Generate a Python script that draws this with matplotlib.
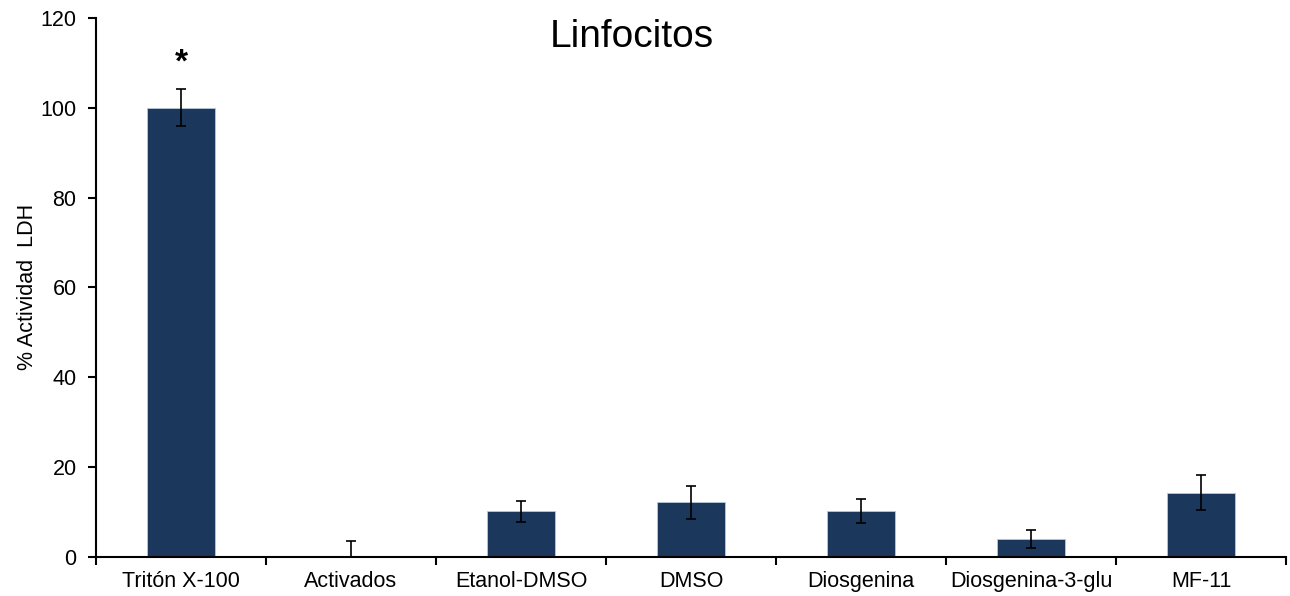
import matplotlib
matplotlib.use("Agg")
import matplotlib.pyplot as plt
import numpy as np

plt.rcParams['font.family'] = ['Liberation Sans', 'DejaVu Sans']

categories = ["Tritón X-100", "Activados", "Etanol-DMSO", "DMSO",
              "Diosgenina", "Diosgenina-3-glu", "MF-11"]
values = [100.0, 0.0, 10.1, 12.1, 10.2, 4.0, 14.3]
errors = [4.1, 3.5, 2.3, 3.7, 2.7, 2.0, 3.8]
yticks = [0, 20, 40, 60, 80, 100, 120]

fig = plt.figure(figsize=(12.9, 5.96), dpi=100)
ax = fig.add_axes([96 / 1290, 39.3 / 596, 1190 / 1290, 538.7 / 596])

x = np.arange(len(categories))
ax.bar(x, values, width=0.4, color="#1b375c", edgecolor="#b8c8dc", linewidth=0.6, zorder=2)
ax.errorbar(x, values, yerr=errors, fmt="none", ecolor="black", elinewidth=1.2,
            capsize=3.5, capthick=1.2, zorder=3)

# significance marker over the first bar
ax.text(x[0], values[0] + errors[0] + 5.8, "*", ha="center", va="center",
        fontsize=24, fontweight="bold")

ax.set_xlim(-0.5, len(categories) - 0.5)
ax.set_ylim(0, 120)
ax.set_yticks(yticks)
ax.set_xticks(np.arange(len(categories) + 1) - 0.5, minor=False)
ax.set_xticklabels([])
ax.set_xticks(x, minor=True)
ax.set_xticklabels(categories, minor=True, fontsize=15.5)
ax.tick_params(axis="x", which="minor", length=0, pad=10)
ax.tick_params(axis="x", which="major", direction="out", length=6, width=1.5)
ax.tick_params(axis="y", direction="out", length=6, width=1.5, labelsize=15.5, pad=8)

for side in ["top", "right"]:
    ax.spines[side].set_visible(False)
for side in ["left", "bottom"]:
    ax.spines[side].set_linewidth(1.5)

ax.set_ylabel("% Actividad  LDH", fontsize=15.5, labelpad=2)

fig.text(631.7 / 1290, 1 - 37 / 596, "Linfocitos", ha="center", va="center", fontsize=28)

fig.savefig("out.png", dpi=100)
